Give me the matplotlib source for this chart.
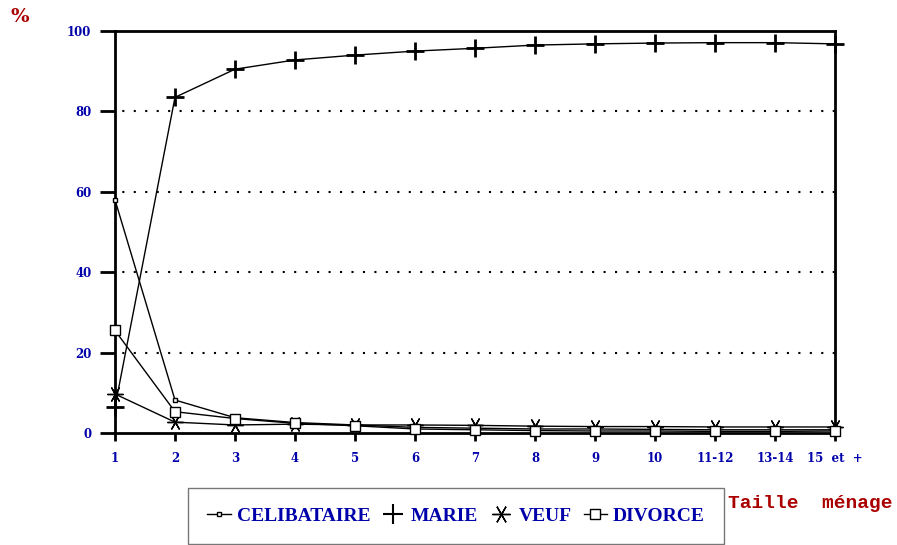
import matplotlib
matplotlib.use("Agg")
import matplotlib.pyplot as plt
from matplotlib.lines import Line2D

categories = ["1", "2", "3", "4", "5", "6", "7", "8", "9", "10", "11-12", "13-14", "15  et  +"]
celibataire = [58.0, 8.2, 3.8, 2.6, 2.0, 1.4, 1.2, 1.0, 1.0, 0.9, 0.8, 0.8, 0.8]
marie = [6.5, 83.5, 90.5, 92.8, 94.0, 95.0, 95.7, 96.5, 96.8, 97.0, 97.1, 97.1, 96.8]
veuf = [9.7, 2.7, 2.0, 2.2, 2.0, 2.0, 1.9, 1.7, 1.6, 1.6, 1.5, 1.5, 1.5]
divorce = [25.5, 5.3, 3.6, 2.4, 1.8, 1.0, 0.8, 0.6, 0.5, 0.5, 0.4, 0.4, 0.5]
yticks = [0, 20, 40, 60, 80, 100]

W, H = 897, 545
fig = plt.figure(figsize=(W / 100, H / 100), dpi=100)
ax = fig.add_axes([115 / W, (H - 433) / H, (835 - 115) / W, (433 - 31) / H])

x = list(range(len(categories)))
blue = "#0000AA"
red = "#AA0000"
asterisk = (6, 2, 90)

ax.plot(x, celibataire, color="black", lw=1, marker="s", ms=3.5, mfc="white", mec="black", mew=1, clip_on=False, zorder=3)
ax.plot(x, marie, color="black", lw=1, marker="+", ms=12.5, mew=2, clip_on=False, zorder=3)
ax.plot(x, veuf, color="black", lw=1, marker=asterisk, ms=11.5, mew=1, clip_on=False, zorder=3)
ax.plot(x, divorce, color="black", lw=1, marker="s", ms=6.5, mfc="white", mec="black", mew=1, clip_on=False, zorder=3)

ax.set_xlim(0, 12)
ax.set_ylim(0, 100)
for v in [20, 40, 60, 80]:
    ax.axhline(v, color="black", lw=1.5, ls=(2, (1, 4.5)), zorder=1)

ax.set_xticks(x)
ax.set_xticklabels(categories)
ax.set_yticks(yticks)
ax.set_yticklabels([str(v) for v in yticks])
for sp in ax.spines.values():
    sp.set_linewidth(2)
ax.tick_params(axis="y", direction="out", length=11, width=2, pad=6, labelsize=8.5, labelcolor=blue)
ax.tick_params(axis="x", direction="out", length=5.5, width=2, pad=8, labelsize=8.5, labelcolor=blue)
for lab in ax.get_xticklabels() + ax.get_yticklabels():
    lab.set_fontfamily("DejaVu Serif")
    lab.set_fontweight("bold")

fig.text(10 / W, 1 - 17 / H, "%", color=red, fontsize=14, fontweight="bold",
         family="DejaVu Serif", va="center", ha="left")
fig.text(728 / W, 1 - 503 / H, "Taille  ménage", color=red, fontsize=14, fontweight="bold",
         family="Liberation Mono", va="center", ha="left")

handles = [
    Line2D([], [], color="black", lw=1, marker="s", ms=3.5, mfc="white", mec="black"),
    Line2D([], [], color="black", lw=0, marker="+", ms=15, mew=1.5),
    Line2D([], [], color="black", lw=0, marker=asterisk, ms=13, mew=1),
    Line2D([], [], color="black", lw=1, marker="s", ms=7, mfc="white", mec="black"),
]
labels = ["CELIBATAIRE", "MARIE", "VEUF", "DIVORCE"]
leg = fig.legend(handles, labels, loc="center", bbox_to_anchor=(456 / W, 1 - 516 / H),
                 ncol=4, frameon=True, fancybox=False, handlelength=1.2, handletextpad=0.3,
                 columnspacing=0.6, borderpad=1.0,
                 prop={"family": "Liberation Serif", "weight": "bold", "size": 14})
leg.get_frame().set_edgecolor("#555555")
leg.get_frame().set_linewidth(1)
for t in leg.get_texts():
    t.set_color(blue)

fig.savefig("out.png", dpi=100)
